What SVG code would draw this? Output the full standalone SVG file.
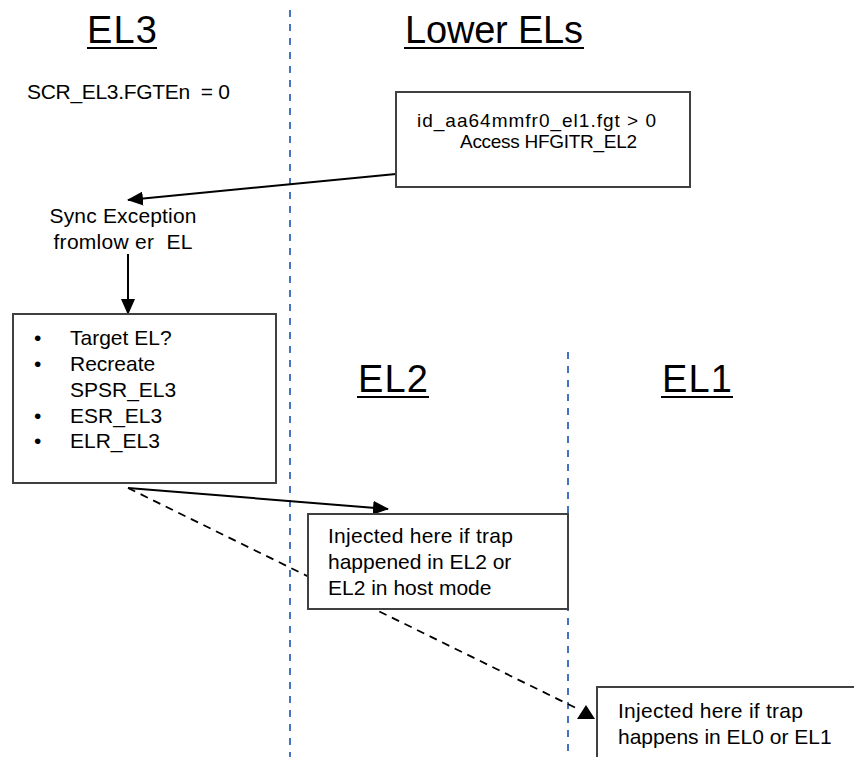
<svg xmlns="http://www.w3.org/2000/svg" width="854" height="757" viewBox="0 0 854 757">
<style>
text{font-family:"Liberation Sans",Arial,sans-serif;fill:#000}
.title{font-size:38px}
.t{font-size:21px}
.s{font-size:19px}
.box{fill:#fff;stroke:#404040;stroke-width:2}
.ul{stroke:#000;stroke-width:2}
.lane{stroke:#4472C4;stroke-width:2;stroke-dasharray:7 7;fill:none}
.arr{stroke:#000;stroke-width:2;fill:none}
.dash{stroke:#000;stroke-width:1.8;fill:none;stroke-dasharray:8 6}
</style>
<defs>
<marker id="ah" markerUnits="userSpaceOnUse" markerWidth="16" markerHeight="14" viewBox="0 0 16 14" refX="15" refY="7" orient="auto">
<path d="M0,0 L16,7 L0,14 z" fill="#000"/>
</marker>
</defs>
<g id="lanes">
<line class="lane" x1="290" y1="10" x2="290" y2="757"/>
<line class="lane" x1="568" y1="352" x2="568" y2="757"/>
</g>
<g id="connectors">
<line class="arr" x1="396" y1="174" x2="128" y2="200" marker-end="url(#ah)"/>
<line class="arr" x1="128" y1="254" x2="128" y2="314" marker-end="url(#ah)"/>
<line class="arr" x1="128" y1="488" x2="388" y2="509" marker-end="url(#ah)"/>
<line class="dash" x1="128" y1="488" x2="580" y2="710"/>
<path d="M586,705 L577,719 L595,719 z" fill="#000"/>
</g>
<g id="title-el3">
<text class="title" x="122" y="43" text-anchor="middle" textLength="70">EL3</text>
<line class="ul" x1="87" y1="48" x2="157" y2="48"/>
</g>
<g id="title-lower">
<text class="title" x="405" y="43" textLength="178">Lower ELs</text>
<line class="ul" x1="404" y1="48" x2="584" y2="48"/>
</g>
<g id="title-el2">
<text class="title" x="358" y="392" textLength="70">EL2</text>
<line class="ul" x1="357" y1="397" x2="429" y2="397"/>
</g>
<g id="title-el1">
<text class="title" x="662" y="392" textLength="70">EL1</text>
<line class="ul" x1="661" y1="397" x2="733" y2="397"/>
</g>
<g id="scr">
<text class="t" x="27" y="99" textLength="203" style="white-space:pre">SCR_EL3.FGTEn  = 0</text>
</g>
<g id="access-box">
<rect class="box" x="396" y="92" width="294" height="95"/>
<text class="s" x="417" y="127" textLength="239">id_aa64mmfr0_el1.fgt &gt; 0</text>
<text class="s" x="460" y="148" textLength="177">Access HFGITR_EL2</text>
</g>
<g id="sync-exception">
<text class="t" x="123" y="223" text-anchor="middle" textLength="147">Sync Exception</text>
<text class="t" x="123" y="249" text-anchor="middle" textLength="139" style="white-space:pre">fromlow er  EL</text>
</g>
<g id="el3-handler">
<rect class="box" x="13" y="314" width="263" height="169"/>
<text class="t" x="34" y="345">•</text>
<text class="t" x="70" y="345">Target EL?</text>
<text class="t" x="34" y="371">•</text>
<text class="t" x="70" y="371">Recreate</text>
<text class="t" x="70" y="397">SPSR_EL3</text>
<text class="t" x="34" y="423">•</text>
<text class="t" x="70" y="423">ESR_EL3</text>
<text class="t" x="34" y="448">•</text>
<text class="t" x="70" y="448">ELR_EL3</text>
</g>
<g id="el2-inject">
<rect class="box" x="308" y="514" width="260" height="95"/>
<text class="t" x="328" y="543" textLength="185">Injected here if trap</text>
<text class="t" x="328" y="569">happened in EL2 or</text>
<text class="t" x="328" y="595">EL2 in host mode</text>
</g>
<g id="el1-inject">
<rect class="box" x="597" y="687" width="300" height="100"/>
<text class="t" x="618" y="718" textLength="185">Injected here if trap</text>
<text class="t" x="618" y="744">happens in EL0 or EL1</text>
</g>
</svg>
